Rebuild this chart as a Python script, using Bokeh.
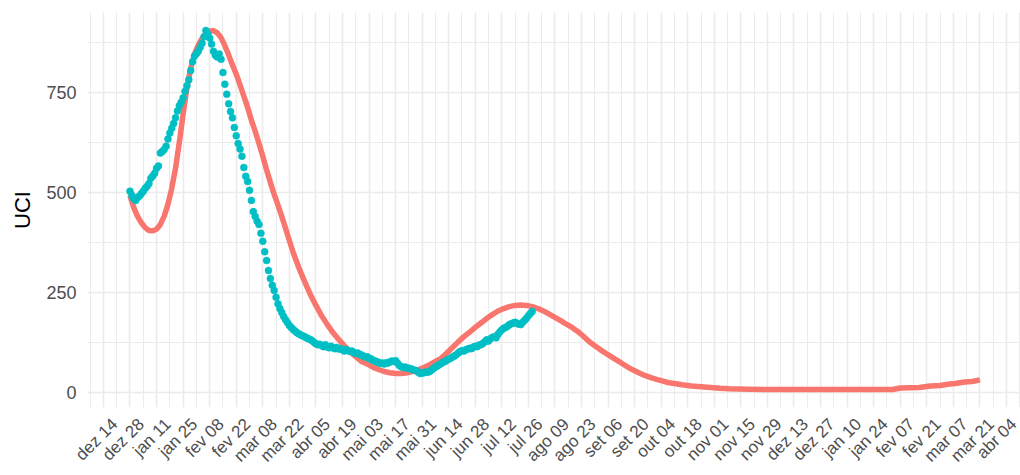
import math
import pandas as pd
from bokeh.plotting import figure
from bokeh.models import FixedTicker, Range1d, ColumnDataSource
from bokeh.embed import file_html
from bokeh.resources import INLINE

# ---------------- data ----------------
tick_origin = "2020-12-14"
tick_labels = ["dez 14", "dez 28", "jan 11", "jan 25", "fev 08", "fev 22", "mar 08",
               "mar 22", "abr 05", "abr 19", "mai 03", "mai 17", "mai 31", "jun 14",
               "jun 28", "jul 12", "jul 26", "ago 09", "ago 23", "set 06", "set 20",
               "out 04", "out 18", "nov 01", "nov 15", "nov 29", "dez 13", "dez 27",
               "jan 10", "jan 24", "fev 07", "fev 21", "mar 07", "mar 21", "abr 04"]

y_ticks = [0, 250, 500, 750]
y_minor_ticks = [125, 375, 625, 875]

# model curve (red): days after 2020-12-14 and UCI value
model_day = [14, 16, 18, 20, 22, 24, 26, 28, 30, 32, 34, 36, 38, 40, 42, 44, 46, 48, 50,
             52, 54, 56, 58, 60, 62, 64, 66, 68, 70, 72, 74, 76, 78, 80, 82, 84, 86, 88,
             90, 92, 94, 96, 98, 100, 103, 106, 109, 112, 115, 118, 121, 124, 127, 130,
             133, 136, 139, 142, 145, 148, 151, 154, 157, 160, 163, 166, 169, 172, 175,
             178, 181, 184, 187, 190, 193, 196, 199, 202, 205, 208, 211, 214, 217, 220,
             223, 226, 229, 232, 235, 238, 241, 244, 247, 250, 253, 256, 259, 262, 265,
             268, 271, 274, 277, 280, 283, 286, 289, 292, 295, 298, 301, 305, 310, 315,
             320, 325, 330, 340, 350, 360, 380, 400, 416, 420, 430, 436, 441, 446, 449,
             454, 458, 462]
model_uci = [492, 462, 440, 424, 412, 405, 404, 408, 420, 440, 470, 510, 560, 625, 695,
             760, 810, 845, 868, 884, 896, 902, 904, 898, 886, 866, 843, 818, 795, 768,
             740, 712, 680, 652, 622, 590, 556, 525, 495, 468, 440, 410, 380, 350, 312,
             278, 246, 218, 192, 170, 150, 133, 117, 103, 90, 78, 72, 64, 58, 53, 50, 48,
             48, 50, 53, 57, 63, 70, 78, 86, 99, 113, 127, 140, 151, 163, 174, 185, 195,
             204, 210, 215, 218, 219, 218, 215, 210, 204, 196, 188, 180, 171, 163, 153,
             141, 128, 117, 107, 98, 89, 80, 71, 62, 55, 48, 42, 37, 33, 29, 25, 23, 20,
             17, 15, 13, 11, 10, 9, 8, 8, 8, 8, 8, 12, 13, 17, 18, 22, 23, 27, 28, 32]

# observed occupancy (teal): daily from 2020-12-28
obs_start = "2020-12-28"
obs_uci = [503, 492, 484, 480, 487, 491, 497, 503, 510, 515, 522, 535, 541, 548, 560,
           566, 598, 602, 607, 615, 633, 648, 660, 672, 686, 703, 716, 725, 736, 752,
           766, 781, 804, 826, 840, 846, 852, 862, 872, 888, 904, 895, 885, 870, 852,
           842, 838, 845, 832, 799, 770, 745, 721, 702, 686, 662, 641, 622, 608, 590,
           562, 540, 527, 505, 480, 452, 440, 428, 420, 398, 378, 352, 330, 305, 285,
           268, 255, 238, 222, 210, 200, 190, 182, 175, 168, 163, 158, 154, 150, 147,
           144, 142, 140, 137, 135, 133, 130, 126, 122, 120, 121, 118, 115, 120, 114,
           112, 116, 112, 110, 113, 109, 110, 107, 104, 108, 105, 103, 104, 100, 98,
           99, 96, 94, 92, 89, 90, 86, 85, 81, 80, 77, 76, 73, 74, 72, 75, 74, 77, 79,
           78, 80, 74, 68, 65, 63, 64, 62, 61, 60, 58, 56, 55, 51, 48, 49, 50, 52, 51,
           53, 57, 61, 64, 67, 70, 73, 76, 78, 81, 84, 86, 89, 92, 95, 99, 103, 105,
           104, 107, 109, 111, 110, 114, 116, 115, 119, 120, 123, 127, 132, 129, 135,
           138, 140, 137, 146, 152, 157, 161, 163, 166, 170, 172, 174, 176, 173, 171,
           170, 176, 181, 186, 192, 198, 203]

RED = "#F8766D"
TEAL = "#00BFC4"
FONT = "Liberation Sans"
LABEL_SHIFT_DAYS = 6   # ggplot anchors rotated labels by their top-right corner


def ms(ts):
    return pd.Timestamp(ts).value / 1e6


t0 = pd.Timestamp(tick_origin)
model_dates = [t0 + pd.Timedelta(days=d) for d in model_day]
obs_dates = list(pd.date_range(obs_start, periods=len(obs_uci), freq="D"))

model_src = ColumnDataSource(dict(x=[ms(d) for d in model_dates], y=model_uci))
obs_src = ColumnDataSource(dict(x=[ms(d) for d in obs_dates], y=obs_uci))

major_dates = list(pd.date_range(tick_origin, periods=len(tick_labels), freq="14D"))
major_ms = [ms(d) for d in major_dates]
minor_ms = [ms(d - pd.Timedelta(days=7)) for d in major_dates] + \
           [ms(major_dates[-1] + pd.Timedelta(days=7))]
label_ms = [ms(d + pd.Timedelta(days=LABEL_SHIFT_DAYS)) for d in major_dates]

# ranges (ggplot-like 5% expansion, right side cropped by the image edge)
xmin, xmax = model_dates[0], model_dates[-1]
span = xmax - xmin
x_start = ms(xmin - span * 0.05)
x_end = ms(xmax + span * 0.05 - pd.Timedelta(days=1))
all_y = model_uci + obs_uci
ylo, yhi = min(all_y), max(all_y)
yspan = yhi - ylo
y_start = ylo - 0.05 * yspan
y_end = yhi + 0.05 * yspan

p = figure(width=1020, height=475, x_axis_type="datetime",
           x_range=Range1d(x_start, x_end), y_range=Range1d(y_start, y_end),
           output_backend="svg", toolbar_location=None,
           min_border_left=87, min_border_top=12, min_border_right=0,
           min_border_bottom=68, outline_line_color=None,
           background_fill_color="white", border_fill_color="white")

# grid
p.xgrid.ticker = FixedTicker(ticks=major_ms, minor_ticks=minor_ms)
p.ygrid.ticker = FixedTicker(ticks=y_ticks, minor_ticks=y_minor_ticks)
for g in (p.xgrid, p.ygrid):
    g.grid_line_color = "#EBEBEB"
    g.grid_line_width = 1.6
    g.minor_grid_line_color = "#EBEBEB"
    g.minor_grid_line_width = 1.0

# x axis (labels only)
xa = p.xaxis[0]
xa.ticker = FixedTicker(ticks=label_ms)
xa.major_label_overrides = {t: lab for t, lab in zip(label_ms, tick_labels)}
xa.major_label_orientation = math.pi / 4
xa.major_label_standoff = 14
xa.major_label_text_font_size = "17px"
xa.axis_label_standoff = 0

# y axis
ya = p.yaxis[0]
ya.ticker = FixedTicker(ticks=y_ticks, minor_ticks=y_minor_ticks)
ya.axis_label = "UCI"
ya.axis_label_text_font = FONT
ya.axis_label_text_font_size = "22px"
ya.axis_label_text_font_style = "normal"
ya.axis_label_text_color = "black"
ya.axis_label_standoff = 8
ya.major_label_standoff = 11
ya.major_label_text_font_size = "18px"

for ax in (xa, ya):
    ax.axis_line_color = None
    ax.major_tick_line_color = None
    ax.minor_tick_line_color = None
    ax.major_tick_out = 0
    ax.major_tick_in = 0
    ax.minor_tick_out = 0
    ax.minor_tick_in = 0
    ax.major_label_text_font = FONT
    ax.major_label_text_color = "#4D4D4D"

p.line("x", "y", source=model_src, line_color=RED, line_width=5.5)
p.scatter("x", "y", source=obs_src, size=7, fill_color=TEAL, line_color=TEAL,
          line_width=0.5)

open("out.html", "w").write(file_html(p, INLINE))
